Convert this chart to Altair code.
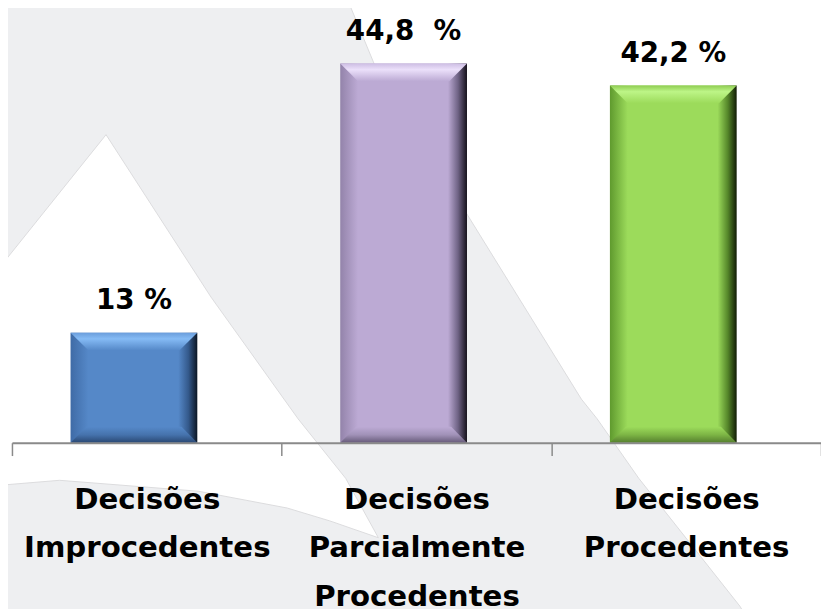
import altair as alt
import pandas as pd

# ---- data ----
categories = ["Decisões|Improcedentes", "Decisões|Parcialmente|Procedentes", "Decisões|Procedentes"]
values = [13.0, 44.8, 42.2]
value_labels = ["13 %", "44,8\u00a0 %", "42,2 %"]

# bevel colours per bar
base_colors = ["#5588c8", "#bcaad4", "#9cdb5b"]
left_colors = ["#3f6ba6", "#9383aa", "#5f9a2e"]
right_colors = ["#34598b", "#6e6284", "#55862a"]
edge_colors = ["#0b1624", "#15111b", "#111c05"]
top_edge = ["#6a9ddb", "#cdbde3", "#8fcc52"]
highlight = ["#85bbf5", "#ebe0fa", "#bdf587"]
bottom_mid = ["#4673ad", "#a192b8", "#7db545"]
bottom_dark = ["#2a4873", "#675b7a", "#557f2e"]

# background decoration outlines (page pixel space)
gray_px = [-20, 344, 378, 587, 603, 645, 747, 760, -20]
gray_py = [-20, -20, 62, 400, 420, 480, 609, 630, 630]
white_px = [107, 213, 301, 349, 382, 333, 290, 200, 60, 0, -10, -10]
white_py = [133, 297, 420, 480, 540, 523, 510, 493, 482, 487, 488, 279]

FONT = "DejaVu Sans"
FS_AXIS = 29.5
FS_VAL = 28

df = pd.DataFrame({"cat": categories, "value": values, "label": value_labels, "base": [0.0] * len(values)})

bg_gray = alt.Chart(pd.DataFrame({"px": gray_px, "py": gray_py, "i": list(range(len(gray_px)))}))
bg_white = alt.Chart(pd.DataFrame({"px": white_px + [white_px[0]], "py": white_py + [white_py[0]],
                                   "i": list(range(len(white_px) + 1))}))

bx = alt.X("px:Q", scale=alt.Scale(domain=[12, 829], nice=False, zero=False), axis=None)
by = alt.Y("py:Q", scale=alt.Scale(domain=[8, 444], reverse=True, nice=False, zero=False), axis=None)

background = alt.layer(
    bg_gray.mark_line(fill="#eeeff1", stroke="#dcdcde", strokeWidth=1).encode(x=bx, y=by, order="i:Q"),
    bg_white.mark_line(fill="#ffffff", stroke="#dcdcde", strokeWidth=1).encode(x=bx, y=by, order="i:Q"),
)

x_enc = alt.X(
    "cat:N",
    scale=alt.Scale(domain=categories, paddingInner=0, paddingOuter=0),
    title=None,
    axis=alt.Axis(
        labelExpr="split(datum.label, '|')",
        labelFont=FONT, labelFontWeight="bold", labelFontSize=FS_AXIS, labelColor="black",
        labelLineHeight=49, labelBaseline="top", labelPadding=30, labelAngle=0,
        labelLimit=0, labelOverlap=False, labelFlush=False,
        tickBand="extent", tickSize=13, tickColor="#8a8a8a", tickWidth=1.5,
        domainColor="#8a8a8a", domainWidth=2, grid=False, zindex=1,
    ),
)
y_scale = alt.Scale(domain=[0, 51], nice=False, zero=True)
BAR_W = 128
OFF = -13
# bevel faces as symbol paths (unit = BAR_W/2 px)
TOP_FACE = "M -1 0 L 1 0 L 0.72 0.28 L -0.72 0.28 Z"
BOT_FACE = "M -1 0 L 1 0 L 0.75 -0.25 L -0.75 -0.25 Z"
SYM_SIZE = BAR_W * BAR_W

layers = []
for k, c in enumerate(categories):
    src = alt.Chart(df).transform_filter(alt.datum.cat == c)
    main_grad = {
        "gradient": "linear", "x1": 0, "x2": 1, "y1": 0, "y2": 0,
        "stops": [
            {"offset": 0.0, "color": left_colors[k]},
            {"offset": 0.14, "color": base_colors[k]},
            {"offset": 0.85, "color": base_colors[k]},
            {"offset": 0.93, "color": right_colors[k]},
            {"offset": 1.0, "color": edge_colors[k]},
        ],
    }
    top_grad = {
        "gradient": "linear", "x1": 0, "x2": 0, "y1": 0, "y2": 1,
        "stops": [
            {"offset": 0.0, "color": top_edge[k]},
            {"offset": 0.35, "color": highlight[k]},
            {"offset": 1.0, "color": base_colors[k]},
        ],
    }
    bot_grad = {
        "gradient": "linear", "x1": 0, "x2": 0, "y1": 0, "y2": 1,
        "stops": [
            {"offset": 0.0, "color": base_colors[k]},
            {"offset": 0.5, "color": bottom_mid[k]},
            {"offset": 1.0, "color": bottom_dark[k]},
        ],
    }
    layers.append(src.mark_bar(width=BAR_W, xOffset=OFF, fill=main_grad).encode(
        x=x_enc, y=alt.Y("value:Q", scale=y_scale, axis=None), y2="base:Q"))
    layers.append(src.mark_point(shape=TOP_FACE, size=SYM_SIZE, filled=True, fill=top_grad,
                                 strokeWidth=0, opacity=1, xOffset=OFF).encode(
        x=x_enc, y=alt.Y("value:Q", scale=y_scale, axis=None)))
    layers.append(src.mark_point(shape=BOT_FACE, size=SYM_SIZE, filled=True, fill=bot_grad,
                                 strokeWidth=0, opacity=1, xOffset=OFF).encode(
        x=x_enc, y=alt.Y("base:Q", scale=y_scale, axis=None)))

text = alt.Chart(df).mark_text(
    dx=OFF, dy=-24, baseline="alphabetic", align="center",
    font=FONT, fontWeight="bold", fontSize=FS_VAL, color="black",
).encode(x=x_enc, y=alt.Y("value:Q", scale=y_scale, axis=None), text="label:N")

bars = alt.layer(*layers, text)

chart = alt.layer(background, bars).resolve_scale(x="independent", y="independent").properties(
    width=817, height=436,
    autosize=alt.AutoSizeParams(type="none"),
    padding={"left": 4, "top": 0, "right": 0, "bottom": 165},
    background="white",
).configure_view(stroke=None)

chart.save("out.html", embed_options={"renderer": "svg", "actions": False})
